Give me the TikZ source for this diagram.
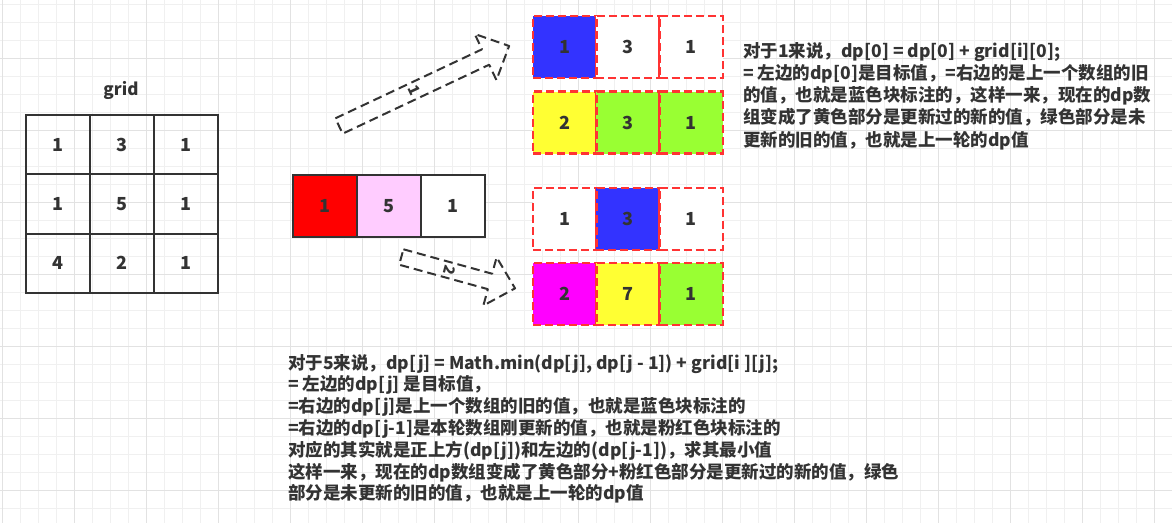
\documentclass[tikz,border=0pt]{standalone}
\usepackage{fontspec}
\setmainfont{Noto Sans CJK SC}
\usepackage{tikz}
\newcommand\picwidth{1172}
\newcommand\picheight{523}
\newcommand\cellwidth{64pt}
\newcommand\cellheight{59.3pt}
\newcommand\dpwidth{63.3pt}
\newcommand\dpheight{62pt}
\definecolor{ink}{HTML}{333333}
\definecolor{minorline}{HTML}{F0F0F0}
\definecolor{majorline}{HTML}{E2E2E2}
\definecolor{dashred}{HTML}{FF3333}
\definecolor{fillblue}{HTML}{3333FF}
\definecolor{fillyellow}{HTML}{FFFF33}
\definecolor{fillgreen}{HTML}{99FF33}
\definecolor{fillmagenta}{HTML}{FF00FF}
\definecolor{fillred}{HTML}{FF0000}
\definecolor{fillpink}{HTML}{FFCCFF}
\tikzset{
	cell/.style = {draw = ink, line width = 2pt, inner sep = 0pt, minimum width = \cellwidth, minimum height = \cellheight, text = ink},
	dpcell/.style = {draw = dashred, line width = 2.6pt, dash pattern = on 8pt off 4pt, inner sep = 0pt, minimum width = \dpwidth, minimum height = \dpheight, text = ink},
	blockarrow/.style = {draw = ink, line width = 2pt, dash pattern = on 9pt off 5pt, line join = round},
	note/.style = {anchor = base west, inner sep = 0pt, text = ink, font = \bfseries\fontsize{17.5}{22}\selectfont}
}

\begin{document}
\begin{tikzpicture}[yscale = -1, x = 1pt, y = 1pt, font = \bfseries\fontsize{18}{21}\selectfont]
	\useasboundingbox (0, 0) rectangle (\picwidth, \picheight);
	\fill [white] (0, 0) rectangle (\picwidth, \picheight);

	% Raster
	\begin{scope}[line width = 1pt]
		\foreach \x in {2, 20, ..., 1172} {
			\draw [minorline] (\x, 0) -- (\x, \picheight);
		}
		\foreach \y in {4, 22, ..., 523} {
			\draw [minorline] (0, \y) -- (\picwidth, \y);
		}
		\foreach \x in {2, 74, ..., 1172} {
			\draw [majorline] (\x, 0) -- (\x, \picheight);
		}
		\foreach \y in {58, 130, ..., 523} {
			\draw [majorline] (0, \y) -- (\picwidth, \y);
		}
	\end{scope}

	% grid
	\node [text = ink, font = \bfseries\fontsize{17}{20}\selectfont] (grid-title) at (121, 90) {grid};
	\foreach \c/\r/\v in {0/0/1, 1/0/3, 2/0/1, 0/1/1, 1/1/5, 2/1/1, 0/2/4, 1/2/2, 2/2/1} {
		\node [cell] (grid-\r-\c) at ({58 + 64*\c}, {144.65 + 59.3*\r}) {\v};
	}

	% dp der Zeile 2
	\foreach \c/\v/\col in {0/1/fillred, 1/5/fillpink, 2/1/white} {
		\node [cell, fill = \col, minimum height = 62pt] (row-\c) at ({325 + 64*\c}, 206) {\v};
	}

	% dp nach Schritt 1
	\foreach \c/\v/\col in {0/1/fillblue, 1/3/white, 2/1/white} {
		\node [dpcell, fill = \col] (old-a-\c) at ({564.65 + 63.3*\c}, 47) {\v};
	}
	\foreach \c/\v/\col in {0/2/fillyellow, 1/3/fillgreen, 2/1/fillgreen} {
		\node [dpcell, fill = \col] (new-a-\c) at ({564.65 + 63.3*\c}, 122.5) {\v};
	}

	% dp nach Schritt 2
	\foreach \c/\v/\col in {0/1/white, 1/3/fillblue, 2/1/white} {
		\node [dpcell, fill = \col] (old-b-\c) at ({564.65 + 63.3*\c}, 219) {\v};
	}
	\foreach \c/\v/\col in {0/2/fillmagenta, 1/7/fillyellow, 2/1/fillgreen} {
		\node [dpcell, fill = \col] (new-b-\c) at ({564.65 + 63.3*\c}, 294) {\v};
	}

	% Pfeile
	\begin{scope}[shift = {(339, 126)}, rotate = -25.2]
		\draw [blockarrow] (0, -8.5) -- (162, -8.5) -- (162, -25.5) -- (188, 0) -- (162, 25.5) -- (162, 8.5) -- (0, 8.5) -- cycle;
		\node [rotate = -64.8, text = ink, font = \bfseries\fontsize{15}{18}\selectfont] (step-one) at (83, 0) {1};
	\end{scope}
	\begin{scope}[shift = {(401.3, 257)}, rotate = 15.4]
		\draw [blockarrow] (0, -8) -- (92, -8) -- (92, -25) -- (118, 0) -- (92, 25) -- (92, 8) -- (0, 8) -- cycle;
		\node [rotate = -105.4, text = ink, font = \bfseries\fontsize{15}{18}\selectfont] (step-two) at (50, 0) {2};
	\end{scope}

	% Erklaerung Schritt 1
	\node [note] (note-a1) at (743, 57.2) {对于1来说，dp[0] = dp[0] + grid[i][0];};
	\node [note] (note-a2) at (743, 79.4) {= 左边的dp[0]是目标值，=右边的是上一个数组的旧};
	\node [note] (note-a3) at (743, 101.6) {的值，也就是蓝色块标注的，这样一来，现在的dp数};
	\node [note] (note-a4) at (743, 123.8) {组变成了黄色部分是更新过的新的值，绿色部分是未};
	\node [note] (note-a5) at (743, 146) {更新的旧的值，也就是上一轮的dp值};

	% Erklaerung Schritt 2
	\node [note] (note-b1) at (288, 369) {对于5来说，dp[j] = Math.min(dp[j], dp[j - 1]) + grid[i ][j];};
	\node [note] (note-b2) at (288, 390.8) {= 左边的dp[j] 是目标值，};
	\node [note] (note-b3) at (288, 412.6) {=右边的dp[j]是上一个数组的旧的值，也就是蓝色块标注的};
	\node [note] (note-b4) at (288, 434.4) {=右边的dp[j-1]是本轮数组刚更新的值，也就是粉红色块标注的};
	\node [note] (note-b5) at (288, 456.2) {对应的其实就是正上方(dp[j])和左边的(dp[j-1])，求其最小值};
	\node [note] (note-b6) at (288, 478) {这样一来，现在的dp数组变成了黄色部分+粉红色部分是更新过的新的值，绿色};
	\node [note] (note-b7) at (288, 499.8) {部分是未更新的旧的值，也就是上一轮的dp值};
\end{tikzpicture}
\end{document}
